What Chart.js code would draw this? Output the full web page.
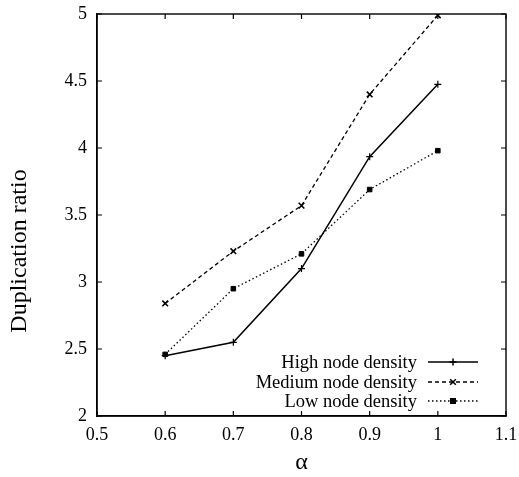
<!DOCTYPE html>
<html>
<head>
<meta charset="utf-8">
<script src="https://cdn.jsdelivr.net/npm/chart.js@4"></script>
<style>
html,body{margin:0;padding:0;background:#fff;}
#wrap{width:519px;height:477px;}
</style>
</head>
<body>
<div id="wrap"><canvas id="c" width="519" height="477"></canvas></div>
<script>
const alphas = [0.6, 0.7, 0.8, 0.9, 1.0];
const highDensity = [2.45, 2.55, 3.10, 3.935, 4.475];
const mediumDensity = [2.84, 3.23, 3.57, 4.40, 4.99];
const lowDensity = [2.46, 2.95, 3.21, 3.69, 3.98];
const seriesNames = ['High node density', 'Medium node density', 'Low node density'];
const xAxisTitle = 'α';
const yAxisTitle = 'Duplication ratio';

const FONT = '"Liberation Serif", "Times New Roman", serif';

const toPts = (ys) => alphas.map((a, i) => ({x: a, y: ys[i]}));

const frameTicks = {
  id: 'frameTicks',
  afterDraw(chart) {
    const {ctx, chartArea: a, scales} = chart;
    ctx.save();
    ctx.strokeStyle = '#000';
    ctx.lineWidth = 1.4;
    ctx.strokeRect(a.left, a.top, a.right - a.left, a.bottom - a.top);
    ctx.lineWidth = 1.2;
    const L = 5;
    scales.x.ticks.forEach(t => {
      const px = scales.x.getPixelForValue(t.value);
      ctx.beginPath();
      ctx.moveTo(px, a.bottom); ctx.lineTo(px, a.bottom - L);
      ctx.moveTo(px, a.top); ctx.lineTo(px, a.top + L);
      ctx.stroke();
    });
    scales.y.ticks.forEach(t => {
      const py = scales.y.getPixelForValue(t.value);
      ctx.beginPath();
      ctx.moveTo(a.left, py); ctx.lineTo(a.left + L, py);
      ctx.moveTo(a.right, py); ctx.lineTo(a.right - L, py);
      ctx.stroke();
    });
    // y axis title (offset below centre as in the reference)
    ctx.save();
    ctx.fillStyle = '#000';
    ctx.font = '24px ' + FONT;
    ctx.textAlign = 'center';
    ctx.textBaseline = 'middle';
    ctx.translate(20, 251);
    ctx.rotate(-Math.PI / 2);
    ctx.fillText(yAxisTitle, 0, 0);
    ctx.restore();
    // legend inside bottom-right
    const rowY = [a.bottom - 54, a.bottom - 34, a.bottom - 15];
    const textRight = a.right - 89;
    const sx0 = a.right - 78, sx1 = a.right - 28;
    ctx.font = '18.5px ' + FONT;
    ctx.fillStyle = '#000';
    ctx.textAlign = 'right';
    ctx.textBaseline = 'middle';
    chart.data.datasets.forEach((ds, i) => {
      const y = rowY[i];
      ctx.fillText(ds.label, textRight, y + 1);
      ctx.beginPath();
      ctx.setLineDash(ds.borderDash || []);
      ctx.lineWidth = ds.borderWidth;
      ctx.moveTo(sx0, y); ctx.lineTo(sx1, y);
      ctx.stroke();
      ctx.setLineDash([]);
      const cx = (sx0 + sx1) / 2;
      ctx.lineWidth = 1.5;
      Chart.helpers.drawPoint(ctx, {pointStyle: ds.pointStyle, radius: ds.pointRadius, borderWidth: 1.5, rotation: 0}, cx, y);
      if (ds.pointStyle === 'rect') { ctx.fillRect(cx - 3, y - 3, 6, 6); }
    });
    ctx.restore();
  }
};

new Chart(document.getElementById('c'), {
  type: 'line',
  data: {
    datasets: [
      {label: seriesNames[0], data: toPts(highDensity), borderColor: '#000', backgroundColor: '#000', borderWidth: 1.5, pointStyle: 'cross', pointRadius: 3.5, pointBorderWidth: 1.2, tension: 0},
      {label: seriesNames[1], data: toPts(mediumDensity), borderColor: '#000', backgroundColor: '#000', borderWidth: 1.3, borderDash: [4, 3], pointStyle: 'crossRot', pointRadius: 4, pointBorderWidth: 1.6, tension: 0},
      {label: seriesNames[2], data: toPts(lowDensity), borderColor: '#000', backgroundColor: '#000', borderWidth: 1.3, borderDash: [1.5, 2.5], pointStyle: 'rect', pointRadius: 3.2, pointBorderWidth: 1, tension: 0}
    ]
  },
  options: {
    responsive: false,
    animation: false,
    layout: {padding: {left: 0, top: 14, right: 13, bottom: 0}},
    plugins: {legend: {display: false}, tooltip: {enabled: false}},
    scales: {
      x: {
        type: 'linear', min: 0.5, max: 1.1,
        ticks: {stepSize: 0.1, color: '#000', font: {family: FONT, size: 18}, padding: 8,
          maxRotation: 0, callback: v => String(Number(v.toFixed(1)))},
        grid: {display: false, drawTicks: false},
        border: {display: true, color: '#000', width: 1.4},
        title: {display: true, text: xAxisTitle, color: '#000', font: {family: FONT, size: 24}, padding: {top: 0, bottom: 0}},
        afterFit: s => { s.height = 61; s.paddingLeft = 0; s.paddingRight = 0; }
      },
      y: {
        type: 'linear', min: 2, max: 5,
        ticks: {stepSize: 0.5, color: '#000', font: {family: FONT, size: 18}, padding: 10,
          callback: v => String(Number(v.toFixed(1)))},
        grid: {display: false, drawTicks: false},
        border: {display: true, color: '#000', width: 1.4},
        title: {display: false, text: yAxisTitle},
        afterFit: s => { s.width = 97; s.paddingTop = 0; s.paddingBottom = 0; }
      }
    }
  },
  plugins: [frameTicks]
});
</script>
</body>
</html>
